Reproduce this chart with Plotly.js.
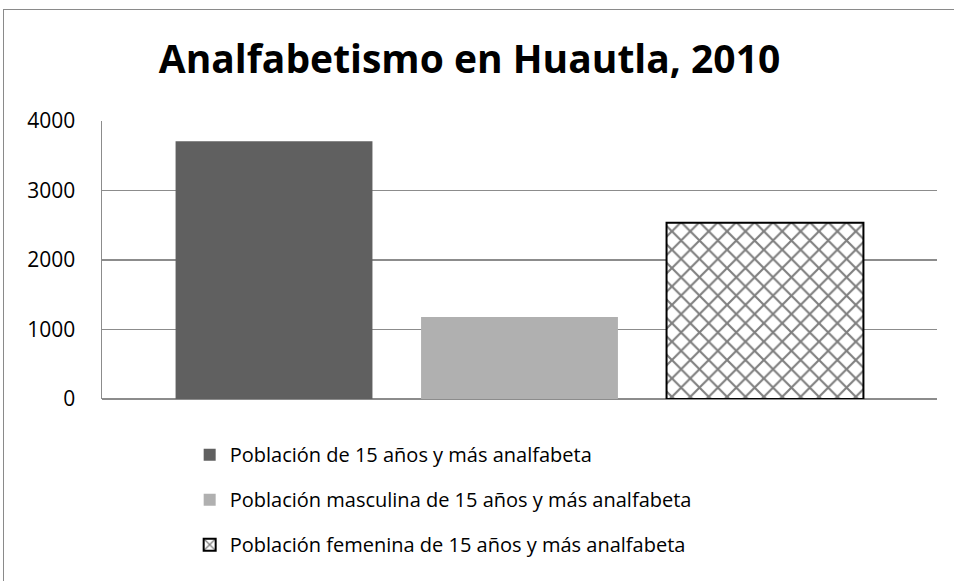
<!DOCTYPE html>
<html><head><meta charset="utf-8">
<script src="https://cdn.plot.ly/plotly-3.0.1.min.js"></script>
<style>
body{margin:0;background:#fff;}
#frame{position:absolute;left:3px;top:9px;width:951px;height:572px;border-left:1px solid #8a8a8a;border-top:1px solid #8a8a8a;box-sizing:border-box;}
#chart{position:absolute;left:4px;top:10px;width:950px;height:571px;}
</style></head>
<body>
<div id="frame"></div>
<div id="chart"></div>
<script>
const category = [""];
const seriesNames = [
  "Población de 15 años y más analfabeta",
  "Población masculina de 15 años y más analfabeta",
  "Población femenina de 15 años y más analfabeta"
];
const seriesValues = [3710, 1180, 2535];
const yTicks = [0, 1000, 2000, 3000, 4000];

const fills = ["#606060", "#b0b0b0", "#ffffff"];
const traces = seriesNames.map((name, i) => {
  const t = {
    type: "bar", x: category, y: [seriesValues[i]], name: name,
    legendgroup: "g" + i,
    marker: {color: fills[i], line: {width: 0}},
    hoverinfo: "skip"
  };
  if (i === 2) {
    t.marker.pattern = {shape: "x", fgcolor: "#000000", bgcolor: "#ffffff", size: 13, solidity: 0.3, fillmode: "overlay"};
    t.marker.line = {width: 2, color: "#000000"};
  }
  return t;
});

const layout = {
  width: 950, height: 571,
  margin: {l: 98, r: 17, t: 111, b: 182},
  paper_bgcolor: "rgba(0,0,0,0)", plot_bgcolor: "#ffffff",
  font: {family: "Open Sans, sans-serif", color: "#000"},
  title: {text: "<b>Analfabetismo en Huautla, 2010</b>", x: 0.49, xanchor: "center", y: 0.914, yanchor: "middle",
          font: {family: "Open Sans, sans-serif", size: 39, color: "#000"}},
  barmode: "group", bargap: 0.118, bargroupgap: 0.198,
  xaxis: {range: [-0.5, 0.5], showticklabels: false, showgrid: false, zeroline: false,
          showline: false, ticks: ""},
  yaxis: {range: [0, 4000], tickvals: yTicks, ticktext: yTicks.map(String), showgrid: true, gridcolor: "#8c8c8c", gridwidth: 1.5,
          zeroline: true, zerolinecolor: "#8c8c8c", zerolinewidth: 1.5, showline: true, linecolor: "#8c8c8c", linewidth: 1.5,
          ticks: "", ticklabelstandoff: 21, tickfont: {size: 21, family: "Open Sans, sans-serif", color: "#000"}},
  showlegend: true,
  legend: {orientation: "v", x: 0.105, xanchor: "left", y: -0.13, yanchor: "top", traceorder: "grouped", tracegroupgap: 16,
           font: {size: 20, family: "Open Sans, sans-serif", color: "#000"}, bgcolor: "rgba(0,0,0,0)"}
};
Plotly.newPlot("chart", traces, layout, {displayModeBar: false, staticPlot: true});
</script>
</body></html>
